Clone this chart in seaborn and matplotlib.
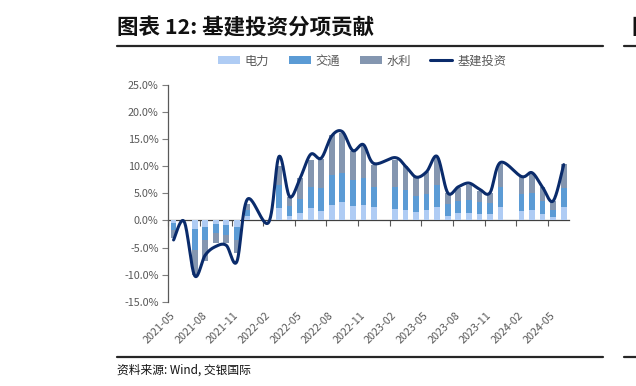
"""
基建投资分项贡献: 电力 / 交通 / 水利 堆积柱 + 基建投资平滑折线
"""

import numpy as np
import pandas as pd
import matplotlib
matplotlib.use('Agg')
import matplotlib.pyplot as plt
import seaborn as sns
from matplotlib.patches import Patch
from matplotlib.lines import Line2D

nan = np.nan

# 月份 (2021-05 至 2024-06)
months = [p.strftime('%Y-%m') for p in pd.period_range('2021-05', '2024-06', freq='M')]

# 各分项对基建投资同比的贡献 (%)
power = [-0.5, 0.0, -1.6, -1.2, -0.6, -0.8, -1.2, 0.8, nan, nan,
         2.3, 0.8, 1.3, 2.3, 1.8, 2.8, 3.4, 2.6, 2.9, 2.4, nan,
         2.2, 2.0, 1.5, 2.0, 2.5, 0.8, 1.4, 1.3, 1.2, 1.1, 2.5, nan,
         1.7, 2.0, 1.2, 0.7, 2.5]
transport = [-1.2, 0.0, -3.9, -2.5, -1.8, -1.8, -2.5, 1.1, nan, nan,
             4.2, 1.8, 2.6, 3.9, 4.1, 5.5, 5.4, 4.9, 4.9, 3.7, nan,
             4.0, 3.6, 3.1, 2.9, 4.1, 2.2, 2.2, 2.4, 2.2, 2.2, 3.7, nan,
             3.1, 3.0, 2.3, 1.2, 3.4]
water = [-1.5, 0.0, -4.6, -3.7, -1.8, -1.6, -2.4, 1.2, nan, nan,
         3.5, 1.8, 3.9, 4.9, 5.4, 7.4, 7.3, 5.4, 6.0, 4.2, nan,
         5.0, 4.4, 3.4, 4.0, 4.9, 2.0, 2.3, 2.8, 2.0, 1.8, 4.3, nan,
         3.3, 3.6, 2.6, 1.7, 4.5]
# 基建投资同比 (%)
infra = [-3.6, -0.2, -10.2, -6.4, -4.8, -4.6, -7.6, 3.9, nan, -0.4,
         11.8, 4.4, 7.8, 12.2, 11.5, 15.6, 16.4, 12.9, 14.0, 10.5, nan,
         11.6, 10.0, 8.0, 9.0, 11.8, 5.1, 6.2, 6.9, 5.8, 5.1, 10.7, nan,
         8.1, 8.8, 6.1, 3.6, 10.3]

series_names = ['电力', '交通', '水利']
series_colors = ['#AFCCF4', '#5B9BD5', '#8496B0']
line_color = '#0A2B6B'
text_gray = '#595959'


def smooth_path(xs, ys, n=30):
    """类似 Excel 平滑线的三次 Bezier 插值"""
    pts = np.column_stack([xs, ys])
    P = np.vstack([pts[0], pts, pts[-1]])
    t = np.linspace(0, 1, n)[:, None]
    segs = []
    for k in range(1, len(P) - 2):
        p0, p1, p2, p3 = P[k - 1], P[k], P[k + 1], P[k + 2]
        b1 = p1 + (p2 - p0) / 6
        b2 = p2 - (p3 - p1) / 6
        segs.append((1 - t) ** 3 * p1 + 3 * (1 - t) ** 2 * t * b1
                    + 3 * (1 - t) * t ** 2 * b2 + t ** 3 * p2)
    return np.vstack(segs)


sns.set_theme(style='white')
plt.rcParams['font.family'] = ['Noto Sans CJK SC', 'DejaVu Sans']

W, H = 636, 386
fig = plt.figure(figsize=(W / 100, H / 100), dpi=100)
ax = fig.add_axes([168.3 / W, 1 - 301.7 / H, (569 - 168.3) / W, (301.7 - 85) / H])

x = np.arange(len(months))
bottom = np.zeros(len(months))
for vals, color in zip([power, transport, water], series_colors):
    v = np.nan_to_num(np.array(vals, dtype=float))
    ax.bar(x, v, width=0.54, bottom=bottom, color=color, linewidth=0)
    bottom = bottom + v

y_line = np.array(infra, dtype=float)
ok = ~np.isnan(y_line)
curve = smooth_path(x[ok], y_line[ok])
sns.lineplot(x=curve[:, 0], y=curve[:, 1], sort=False, ax=ax,
             color=line_color, linewidth=2.2, zorder=5)

ax.set_xlim(-0.5, len(months) - 0.5)
ax.set_ylim(-15, 25)
ax.set_yticks(np.arange(-15, 26, 5))
ax.set_yticklabels([f'{v:.1f}%' for v in np.arange(-15, 26, 5)])
ax.tick_params(axis='y', direction='out', length=4, width=0.8, color='#7F7F7F',
               labelsize=7.8, labelcolor=text_gray, pad=3, left=True)

label_pos = x[::3]
ax.set_xticks(label_pos)
ax.set_xticklabels([months[i] for i in label_pos], rotation=45, ha='right',
                   va='center', rotation_mode='anchor')
ax.tick_params(axis='x', length=0, labelsize=7.8, labelcolor=text_gray, pad=9)

for s in ['top', 'right', 'bottom']:
    ax.spines[s].set_visible(False)
ax.spines['left'].set_color('#595959')
ax.spines['left'].set_linewidth(0.9)
ax.grid(False)
ax.set_xlabel('')
ax.set_ylabel('')

# 零轴及刻度线
zero_frac = 15 / 40
sec = ax.secondary_xaxis(zero_frac)
sec.set_xticks(np.arange(-0.5, len(months), 3))
sec.tick_params(axis='x', direction='out', length=4, width=0.8, color='#595959',
                labelbottom=False, labeltop=False, top=False, bottom=True)
sec.spines['bottom'].set_color('#404040')
sec.spines['bottom'].set_linewidth(0.9)
sec.spines['top'].set_visible(False)

# 标题与分隔线
fig.text(117 / W, 1 - 28 / H, '图表 12: 基建投资分项贡献', fontsize=15.5,
         fontweight='bold', color='#111111', va='center', ha='left')
# 右侧相邻图表标题的残片
fig.text(631 / W, 1 - 28 / H, '图', fontsize=15.5, fontweight='bold',
         color='#111111', va='center', ha='left')
fig.add_artist(Line2D([117 / W, 603 / W], [1 - 46 / H] * 2, color='#262626', lw=1.6))
fig.add_artist(Line2D([624 / W, 1.0], [1 - 46 / H] * 2, color='#262626', lw=1.6))

handles = [Patch(facecolor=c, edgecolor='none') for c in series_colors]
handles.append(Line2D([0], [0], color=line_color, lw=2.2))
leg = fig.legend(handles, series_names + ['基建投资'], loc='center', ncol=4,
                 bbox_to_anchor=(362 / W, 1 - 61 / H), frameon=False,
                 fontsize=8.8, handlelength=1.8, handleheight=0.55,
                 handletextpad=0.4, columnspacing=1.6)
for t in leg.get_texts():
    t.set_color(text_gray)

# 资料来源
fig.add_artist(Line2D([117 / W, 603 / W], [1 - 357 / H] * 2, color='#262626', lw=1.6))
fig.add_artist(Line2D([624 / W, 1.0], [1 - 357 / H] * 2, color='#262626', lw=1.6))
fig.text(117 / W, 1 - 370 / H, '资料来源: Wind, 交银国际', fontsize=8.5,
         style='italic', color='#111111', va='center', ha='left')

fig.savefig('out.png', dpi=100)
